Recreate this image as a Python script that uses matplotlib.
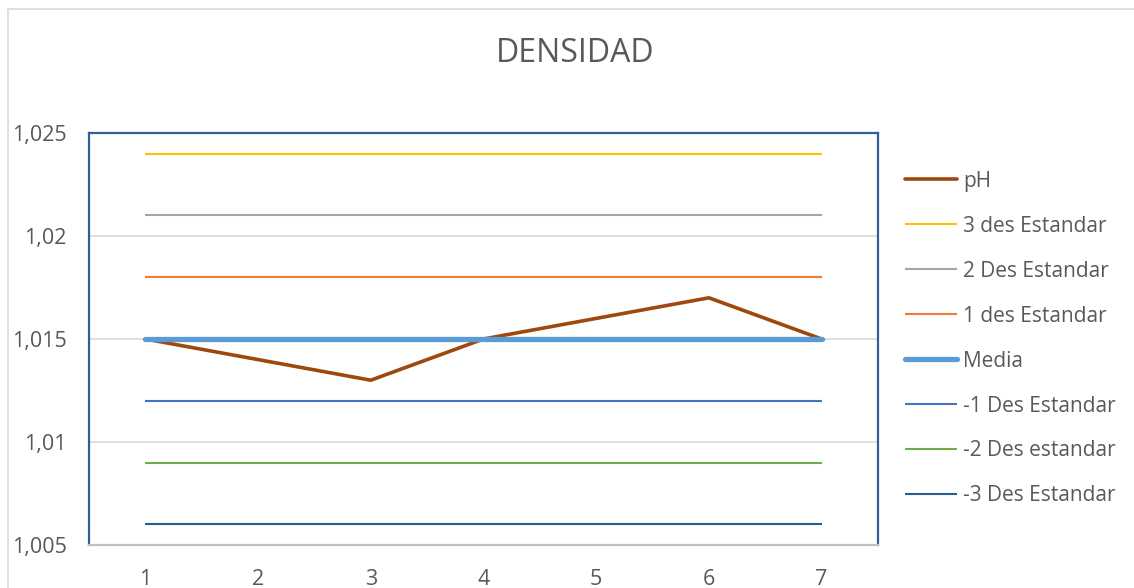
import matplotlib
matplotlib.use("Agg")
import matplotlib.pyplot as plt
from matplotlib.lines import Line2D
from matplotlib.ticker import FuncFormatter

plt.rcParams['font.family'] = ['Open Sans', 'DejaVu Sans']

x = [1, 2, 3, 4, 5, 6, 7]
ph = [1.015, 1.014, 1.013, 1.015, 1.016, 1.017, 1.015]
des3 = [1.024] * 7
des2 = [1.021] * 7
des1 = [1.018] * 7
media = [1.015] * 7
des_m1 = [1.012] * 7
des_m2 = [1.009] * 7
des_m3 = [1.006] * 7
yticks = [1.005, 1.01, 1.015, 1.02, 1.025]

W, H = 1134, 588
fig = plt.figure(figsize=(W / 100, H / 100), dpi=100)
ax = fig.add_axes([89 / W, 1 - 545 / H, (878 - 89) / W, (545 - 133) / H])

series = [
    ("pH", ph, "#9E480E", 2.6),
    ("3 des Estandar", des3, "#FFC000", 1.5),
    ("2 Des Estandar", des2, "#A5A5A5", 1.5),
    ("1 des Estandar", des1, "#ED7D31", 1.5),
    ("Media", media, "#5B9BD5", 3.8),
    ("-1 Des Estandar", des_m1, "#4472C4", 1.5),
    ("-2 Des estandar", des_m2, "#70AD47", 1.5),
    ("-3 Des Estandar", des_m3, "#255E91", 1.5),
]
handles = []
for i, (lab, ys, col, lw) in enumerate(series):
    z = 5 if lab == "Media" else 3
    h, = ax.plot(x, ys, color=col, lw=lw, label=lab, solid_capstyle='round' if lw > 2 else 'butt', zorder=z)
    handles.append(h)

ax.set_xlim(0.5, 7.5)
ax.set_ylim(1.005, 1.025)
ax.set_xticks(x)
ax.set_yticks(yticks)
ax.yaxis.set_major_formatter(FuncFormatter(lambda v, p: f"{round(v, 3):g}".replace('.', ',')))
ax.grid(axis='y', color='#D9D9D9', lw=1.2)
ax.set_axisbelow(True)
ax.tick_params(length=0, labelsize=15.5, colors='#595959')
ax.tick_params(axis='y', pad=16)
ax.tick_params(axis='x', pad=17)
for s in ['left', 'top', 'right']:
    ax.spines[s].set_color('#2E6096')
    ax.spines[s].set_linewidth(1.6)
ax.spines['bottom'].set_color('#BFBFBF')
ax.spines['bottom'].set_linewidth(1.6)

fig.text(575 / W, 1 - 53 / H, "DENSIDAD", ha='center', va='center', fontsize=23, color='#595959')

leg = fig.legend(handles=handles, loc='upper left', bbox_to_anchor=(886 / W, 1 - 152 / H),
                 frameon=False, fontsize=15, labelspacing=1.15, handlelength=2.5,
                 handletextpad=0.3, labelcolor='#595959')

fig.add_artist(Line2D([8 / W, 1], [1 - 9 / H, 1 - 9 / H], transform=fig.transFigure, color='#D9D9D9', lw=1.2))
fig.add_artist(Line2D([8 / W, 8 / W], [0, 1 - 9 / H], transform=fig.transFigure, color='#D9D9D9', lw=1.2))

fig.savefig("out.png", dpi=100)
